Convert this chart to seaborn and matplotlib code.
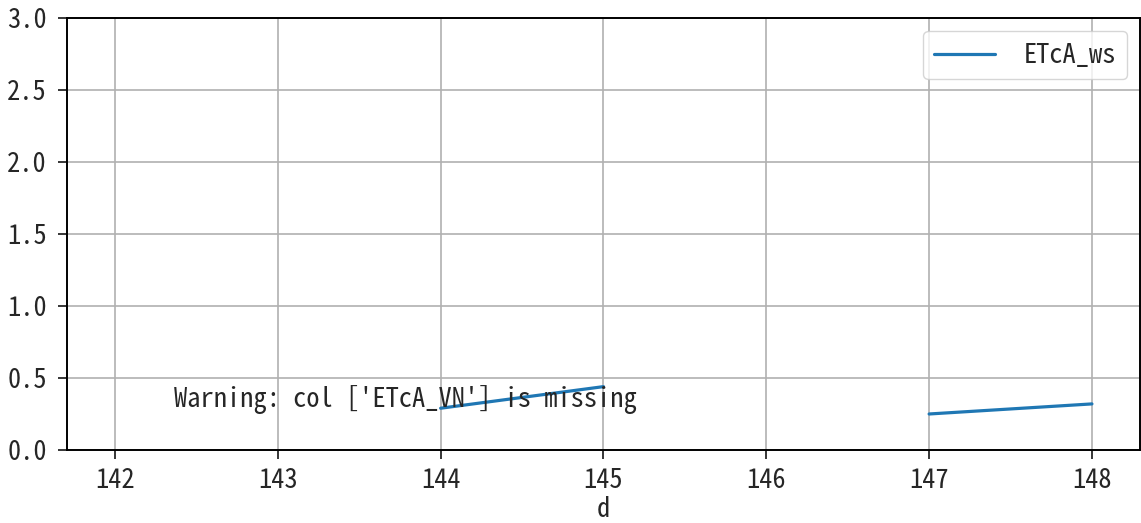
import numpy as np
import pandas as pd
import matplotlib
matplotlib.use("Agg")
import matplotlib.pyplot as plt
import seaborn as sns

# data (NaN = no value that day)
days = [142, 143, 144, 145, 146, 147, 148]
etca_ws = [np.nan, np.nan, 0.29, 0.44, np.nan, 0.25, 0.32]
missing_col = "ETcA_VN"

df = pd.DataFrame({"d": days, "ETcA_ws": etca_ws})

sns.set_style("ticks")
plt.rcParams["font.family"] = ["Noto Sans Mono CJK SC", "Noto Sans CJK SC", "DejaVu Sans Mono"]
plt.rcParams["axes.unicode_minus"] = False

fig = plt.figure(figsize=(11.41, 5.23), dpi=100)
ax = fig.add_axes([0.0587, 0.1396, 0.9404, 0.826])

# seaborn drops NaN rows, so draw each unbroken run on its own to keep the gaps
seg = df["ETcA_ws"].isna().cumsum()
first = True
for _, part in df[df["ETcA_ws"].notna()].groupby(seg[df["ETcA_ws"].notna()]):
    sns.lineplot(data=part, x="d", y="ETcA_ws", ax=ax, color="#1f77b4",
                 linewidth=2.3, label="ETcA_ws" if first else None)
    first = False

ax.text(142.36, 0.29, "Warning: col ['%s'] is missing" % missing_col, fontsize=19)

ax.set_xlim(141.705, 148.295)
ax.set_ylim(0, 3.0)
ax.set_xticks(days)
ax.set_yticks(np.arange(0, 3.01, 0.5))
ax.set_yticklabels(["%.1f" % v for v in np.arange(0, 3.01, 0.5)])
ax.tick_params(labelsize=19, length=6.5, width=1.3)
ax.tick_params(axis="x", pad=6)
ax.tick_params(axis="y", pad=8)
ax.set_xlabel("d", fontsize=19, labelpad=1)
ax.set_ylabel("")
ax.grid(True, color="#b0b0b0", linewidth=1.2)
for s in ax.spines.values():
    s.set_visible(True)
    s.set_color("black")
    s.set_linewidth(1.4)

ax.legend(loc="upper right", fontsize=19, handlelength=2.3, handletextpad=1.1,
          framealpha=0.8, edgecolor="#cccccc")

fig.savefig("out.png", dpi=100)
